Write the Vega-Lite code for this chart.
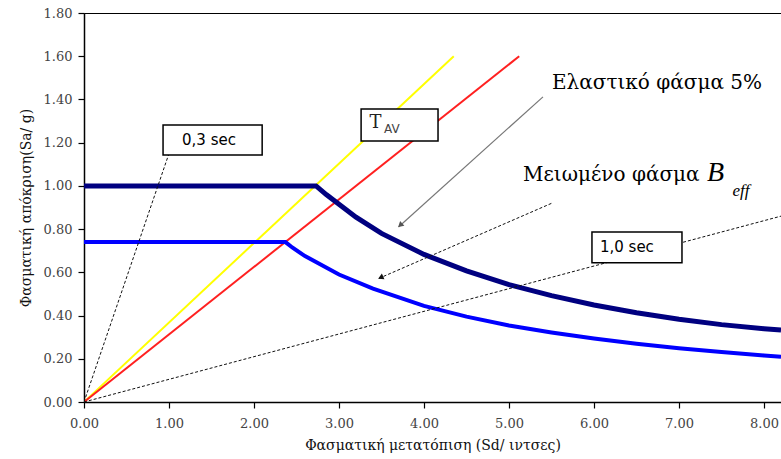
{
  "$schema": "https://vega.github.io/schema/vega-lite/v6.json",
  "width": 697,
  "height": 389,
  "autosize": "none",
  "padding": {"left": 84, "top": 13, "right": 0, "bottom": 57},
  "background": "white",
  "config": {
    "view": {"stroke": "#000", "strokeWidth": 1},
    "axis": {"grid": false, "domainColor": "#000", "tickColor": "#000", "domainWidth": 1.5, "tickWidth": 1.2, "tickSize": 6, "labelFlush": false,
      "labelFont": "DejaVu Serif", "labelFontSize": 13, "labelColor": "#444",
      "titleFont": "DejaVu Serif", "titleFontSize": 14, "titleFontWeight": "normal", "titleColor": "#111"}
  },
  "datasets": {
    "yellow": [{"x": 0, "y": 0}, {"x": 4.35, "y": 1.6}],
    "red": [{"x": 0, "y": 0}, {"x": 5.12, "y": 1.6}],
    "navy": [{"x": 0, "y": 1.0}, {"x": 2.73, "y": 1.0}, {"x": 2.85, "y": 0.96}, {"x": 3.0, "y": 0.915}, {"x": 3.2, "y": 0.855}, {"x": 3.5, "y": 0.78}, {"x": 4.0, "y": 0.683}, {"x": 4.5, "y": 0.607}, {"x": 5.0, "y": 0.543}, {"x": 5.5, "y": 0.492}, {"x": 6.0, "y": 0.449}, {"x": 6.5, "y": 0.413}, {"x": 7.0, "y": 0.383}, {"x": 7.5, "y": 0.358}, {"x": 8.0, "y": 0.339}, {"x": 8.2, "y": 0.333}],
    "blue": [{"x": 0, "y": 0.74}, {"x": 2.37, "y": 0.74}, {"x": 2.45, "y": 0.715}, {"x": 2.6, "y": 0.675}, {"x": 3.0, "y": 0.59}, {"x": 3.4, "y": 0.525}, {"x": 4.0, "y": 0.445}, {"x": 4.5, "y": 0.395}, {"x": 5.0, "y": 0.354}, {"x": 5.5, "y": 0.322}, {"x": 6.0, "y": 0.294}, {"x": 6.5, "y": 0.27}, {"x": 7.0, "y": 0.249}, {"x": 7.5, "y": 0.231}, {"x": 8.0, "y": 0.215}, {"x": 8.2, "y": 0.209}],
    "periods": [{"id": "0,3 sec", "x": 0, "y": 0}, {"id": "0,3 sec", "x": 1.0, "y": 1.15}, {"id": "1,0 sec", "x": 0, "y": 0}, {"id": "1,0 sec", "x": 8.2, "y": 0.86}],
    "arrow1": [{"x": 5.4, "y": 1.412}, {"x": 3.7, "y": 0.81}],
    "arrow2": [{"x": 5.51, "y": 0.921}, {"x": 3.47, "y": 0.572}],
    "heads": [{"x": 3.72, "y": 0.818, "angle": 228, "c": "#555"}, {"x": 3.49, "y": 0.576, "angle": 246, "c": "#111"}],
    "boxes": [{"x": 0.93, "x2": 2.096, "y": 1.143, "y2": 1.282}, {"x": 3.26, "x2": 4.165, "y": 1.208, "y2": 1.356}, {"x": 5.976, "x2": 7.035, "y": 0.644, "y2": 0.787}],
    "boxlabels": [{"x": 1.153, "y": 1.213, "t": "0,3 sec"}, {"x": 6.07, "y": 0.716, "t": "1,0 sec"}],
    "tav": [{"x": 3.36, "y": 1.292, "t": "T"}],
    "tavsub": [{"x": 3.53, "y": 1.262, "t": "AV"}],
    "bigtext": [{"x": 5.506, "y": 1.477, "t": "Ελαστικό φάσμα 5%"}, {"x": 5.165, "y": 1.051, "t": "Μειωμένο φάσμα"}],
    "btext": [{"x": 7.33, "y": 1.058, "t": "B"}],
    "efftext": [{"x": 7.63, "y": 0.975, "t": "eff"}]
  },
  "layer": [
    {
      "data": {"name": "yellow"},
      "mark": {"type": "line", "color": "#FFFF00", "strokeWidth": 2, "clip": true},
      "encoding": {
        "x": {"field": "x", "type": "quantitative", "scale": {"domain": [0, 8.2], "nice": false},
          "axis": {"values": [0, 1, 2, 3, 4, 5, 6, 7, 8], "format": ".2f", "title": "Φασματική μετατόπιση (Sd/ ιντσες)", "labelPadding": 9, "titlePadding": 8}},
        "y": {"field": "y", "type": "quantitative", "scale": {"domain": [0, 1.8], "nice": false},
          "axis": {"values": [0, 0.2, 0.4, 0.6, 0.8, 1.0, 1.2, 1.4, 1.6, 1.8], "format": ".2f", "title": "Φασματική απόκριση(Sa/ g)", "labelPadding": 6, "titlePadding": 10}}
      }
    },
    {
      "data": {"name": "red"},
      "mark": {"type": "line", "color": "#FF2020", "strokeWidth": 2, "clip": true},
      "encoding": {"x": {"field": "x", "type": "quantitative"}, "y": {"field": "y", "type": "quantitative"}}
    },
    {
      "data": {"name": "navy"},
      "mark": {"type": "line", "color": "#000080", "strokeWidth": 5, "clip": true},
      "encoding": {"x": {"field": "x", "type": "quantitative"}, "y": {"field": "y", "type": "quantitative"}}
    },
    {
      "data": {"name": "blue"},
      "mark": {"type": "line", "color": "#0000FF", "strokeWidth": 4, "clip": true},
      "encoding": {"x": {"field": "x", "type": "quantitative"}, "y": {"field": "y", "type": "quantitative"}}
    },
    {
      "data": {"name": "periods"},
      "mark": {"type": "line", "color": "#111", "strokeWidth": 1, "strokeDash": [3, 2], "clip": true},
      "encoding": {"x": {"field": "x", "type": "quantitative"}, "y": {"field": "y", "type": "quantitative"}, "detail": {"field": "id"}}
    },
    {
      "data": {"name": "arrow1"},
      "mark": {"type": "line", "color": "#777", "strokeWidth": 1.2},
      "encoding": {"x": {"field": "x", "type": "quantitative"}, "y": {"field": "y", "type": "quantitative"}}
    },
    {
      "data": {"name": "arrow2"},
      "mark": {"type": "line", "color": "#111", "strokeWidth": 1, "strokeDash": [3, 2]},
      "encoding": {"x": {"field": "x", "type": "quantitative"}, "y": {"field": "y", "type": "quantitative"}}
    },
    {
      "data": {"name": "heads"},
      "mark": {"type": "point", "shape": "triangle-up", "filled": true, "size": 40, "opacity": 1},
      "encoding": {"x": {"field": "x", "type": "quantitative"}, "y": {"field": "y", "type": "quantitative"},
        "angle": {"field": "angle", "type": "quantitative", "scale": null},
        "color": {"field": "c", "type": "nominal", "scale": null}}
    },
    {
      "data": {"name": "boxes"},
      "mark": {"type": "rect", "fill": "white", "stroke": "#000", "strokeWidth": 1.5},
      "encoding": {"x": {"field": "x", "type": "quantitative"}, "x2": {"field": "x2"}, "y": {"field": "y", "type": "quantitative"}, "y2": {"field": "y2"}}
    },
    {
      "data": {"name": "boxlabels"},
      "mark": {"type": "text", "align": "left", "baseline": "middle", "font": "DejaVu Sans", "fontSize": 15, "color": "#000"},
      "encoding": {"x": {"field": "x", "type": "quantitative"}, "y": {"field": "y", "type": "quantitative"}, "text": {"field": "t"}}
    },
    {
      "data": {"name": "tav"},
      "mark": {"type": "text", "align": "left", "baseline": "middle", "font": "DejaVu Serif", "fontSize": 18, "color": "#222"},
      "encoding": {"x": {"field": "x", "type": "quantitative"}, "y": {"field": "y", "type": "quantitative"}, "text": {"field": "t"}}
    },
    {
      "data": {"name": "tavsub"},
      "mark": {"type": "text", "align": "left", "baseline": "middle", "font": "DejaVu Sans", "fontSize": 12, "color": "#444"},
      "encoding": {"x": {"field": "x", "type": "quantitative"}, "y": {"field": "y", "type": "quantitative"}, "text": {"field": "t"}}
    },
    {
      "data": {"name": "bigtext"},
      "mark": {"type": "text", "align": "left", "baseline": "middle", "font": "DejaVu Serif", "fontSize": 20, "color": "#000"},
      "encoding": {"x": {"field": "x", "type": "quantitative"}, "y": {"field": "y", "type": "quantitative"}, "text": {"field": "t"}}
    },
    {
      "data": {"name": "btext"},
      "mark": {"type": "text", "align": "left", "baseline": "middle", "font": "Liberation Serif", "fontStyle": "italic", "fontSize": 28, "color": "#000"},
      "encoding": {"x": {"field": "x", "type": "quantitative"}, "y": {"field": "y", "type": "quantitative"}, "text": {"field": "t"}}
    },
    {
      "data": {"name": "efftext"},
      "mark": {"type": "text", "align": "left", "baseline": "middle", "font": "Liberation Serif", "fontStyle": "italic", "fontSize": 17, "color": "#000"},
      "encoding": {"x": {"field": "x", "type": "quantitative"}, "y": {"field": "y", "type": "quantitative"}, "text": {"field": "t"}}
    }
  ]
}
